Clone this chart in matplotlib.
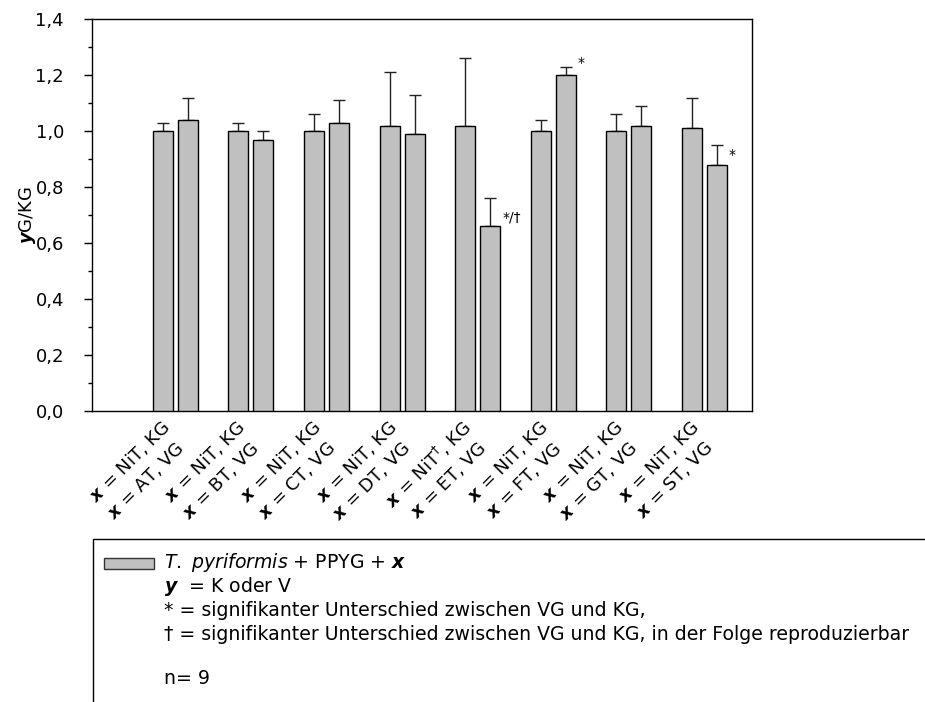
import numpy as np
import matplotlib.pyplot as plt
from matplotlib.patches import Rectangle
from matplotlib.ticker import MultipleLocator
from matplotlib.transforms import offset_copy

plt.rcParams['font.family'] = ['DejaVu Sans']
plt.rcParams['mathtext.fontset'] = 'custom'
plt.rcParams['mathtext.rm'] = 'DejaVu Sans'
plt.rcParams['mathtext.it'] = 'DejaVu Sans:italic'
plt.rcParams['mathtext.bf'] = 'DejaVu Sans:bold:italic'

# Daten
treatments = ['AT', 'BT', 'CT', 'DT', 'ET', 'FT', 'GT', 'ST']
kg_mean = [1.00, 1.00, 1.00, 1.02, 1.02, 1.00, 1.00, 1.01]
kg_err = [0.03, 0.03, 0.06, 0.19, 0.24, 0.04, 0.06, 0.11]
vg_mean = [1.04, 0.97, 1.03, 0.99, 0.66, 1.20, 1.02, 0.88]
vg_err = [0.08, 0.03, 0.08, 0.14, 0.10, 0.03, 0.07, 0.07]
kg_mark = ['', '', '', '', r'$^\dag$', '', '', '']
significance = ['', '', '', '', '*/†', '*', '', '*']
sig_height = [0, 0, 0, 0, 0.69, 1.245, 0, 0.915]

W, H = 925, 702
fig = plt.figure(figsize=(W / 100, H / 100), dpi=100)
ax = fig.add_axes([91.7 / W, 1 - 410.7 / H, (752 - 91.7) / W, (410.7 - 19.3) / H])

x = np.arange(len(treatments))
off = 0.165
bw = 0.265
x_kg = x - off
x_vg = x + off

bar_kw = dict(width=bw, color='#c0c0c0', edgecolor='black', linewidth=1, zorder=3)
ax.bar(x_kg, kg_mean, **bar_kw)
ax.bar(x_vg, vg_mean, **bar_kw)
err_kw = dict(fmt='none', ecolor='#222222', elinewidth=1, capsize=4.2, capthick=1, zorder=2)
ax.errorbar(x_kg, kg_mean, yerr=[np.zeros(len(x)), kg_err], **err_kw)
ax.errorbar(x_vg, vg_mean, yerr=[np.zeros(len(x)), vg_err], **err_kw)

# Signifikanz
for i in range(len(x)):
    if significance[i]:
        t = offset_copy(ax.transData, fig=fig, x=2, y=0, units='dots')
        ax.text(x_vg[i] + bw / 2, sig_height[i], significance[i], transform=t,
                ha='left', va='center', fontsize=10)

ax.set_xlim(-1.106, 7.63)
ax.set_ylim(0, 1.4)
ax.set_xticks([])
ax.set_yticks(np.arange(0, 1.41, 0.2))
ax.set_yticklabels([f'{v:.1f}'.replace('.', ',') for v in np.arange(0, 1.41, 0.2)])
ax.yaxis.set_minor_locator(MultipleLocator(0.1))
ax.tick_params(axis='y', which='major', direction='out', length=6, width=1, labelsize=13,
               pad=14, right=False)
ax.tick_params(axis='y', which='minor', direction='out', length=3, width=1, right=False)
for s in ax.spines.values():
    s.set_linewidth(1)
ax.set_ylabel(r'$\mathbf{y}$G/KG', fontsize=13, labelpad=-2)

# Achsenbeschriftung (schraeg)
trans_x = ax.get_xaxis_transform()
for i in range(len(x)):
    t1 = offset_copy(trans_x, fig=fig, x=11, y=-6, units='dots')
    ax.text(x_kg[i], 0, r'$\mathbf{x}$ = NiT' + kg_mark[i] + ', KG', transform=t1,
            rotation=45, ha='right', va='top', fontsize=13)
    t2 = offset_copy(trans_x, fig=fig, x=0, y=-28, units='dots')
    ax.text(x_vg[i], 0, r'$\mathbf{x}$ = ' + treatments[i] + ', VG', transform=t2,
            rotation=45, ha='right', va='top', fontsize=13)

# Legende
fig.patches.append(Rectangle((93 / W, -0.1), 1.0, (702 - 539) / H + 0.1, transform=fig.transFigure,
                             fill=False, edgecolor='black', linewidth=1))
fig.patches.append(Rectangle((104 / W, 1 - 569 / H), 50 / W, 11.3 / H, transform=fig.transFigure,
                             facecolor='#c0c0c0', edgecolor='#333333', linewidth=1))
legend_lines = [
    (563, r'$\mathit{T.\ pyriformis}$ + PPYG + $\mathbf{x}$'),
    (587, r'$\mathbf{y}$  = K oder V'),
    (610, '* = signifikanter Unterschied zwischen VG und KG,'),
    (634, '† = signifikanter Unterschied zwischen VG und KG, in der Folge reproduzierbar'),
    (679, 'n= 9'),
]
for yy, txt in legend_lines:
    fig.text(164 / W, 1 - yy / H, txt, ha='left', va='center', fontsize=13.6)

fig.savefig('out.png', dpi=100)
